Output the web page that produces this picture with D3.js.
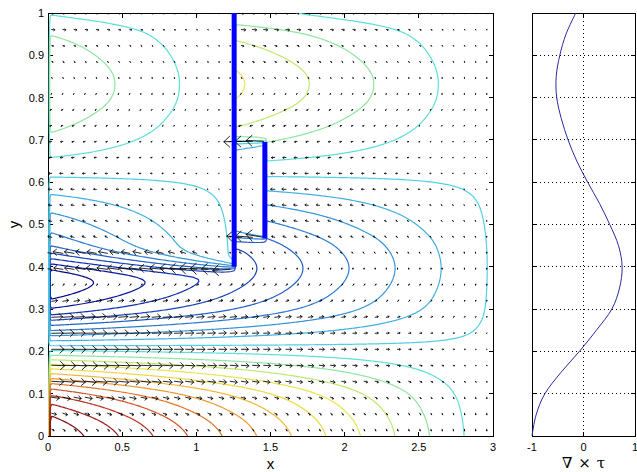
<!DOCTYPE html>
<html>
<head>
<meta charset="utf-8">
<title>Wind-driven circulation with barriers</title>
<script src="https://cdn.jsdelivr.net/npm/d3@7"></script>
<style>
  html, body { margin: 0; padding: 0; background: #fff; }
  svg { display: block; }
  .tick-label { font-family: "Liberation Sans", Arial, Helvetica, sans-serif; font-size: 11px; fill: #000; }
  .axis-title { font-family: "Liberation Sans", Arial, Helvetica, sans-serif; font-size: 15px; fill: #000; }
  .curl-title { font-family: "DejaVu Serif", "Liberation Serif", serif; font-size: 15px; fill: #000; word-spacing: 1px; }
</style>
</head>
<body>
<svg id="chart" width="637" height="472"></svg>
<script>
// Wind-stress curl profile, sampled every 0.05 in y
const curlY = [0, 0.05, 0.10, 0.15, 0.20, 0.25, 0.30, 0.35, 0.40, 0.45, 0.50,
               0.55, 0.60, 0.65, 0.70, 0.75, 0.80, 0.85, 0.90, 0.95, 1.00];
const curlValues = [-1.00, -0.92, -0.75, -0.44, -0.08, 0.25, 0.55, 0.70, 0.75, 0.68, 0.51,
                    0.31, 0.08, -0.13, -0.30, -0.43, -0.52, -0.53, -0.46, -0.34, -0.15];

// Thin barriers: x position, lower end, upper end, streamfunction value on the barrier
const barrierX = [1.255, 1.462];
const barrierBottom = [0.40, 0.467];
const barrierTop = [1.00, 0.695];
const barrierPsi = [0, -0.35];

// Streamfunction contour levels
const levels = [-2.13, -1.897, -1.664, -1.431, -1.198, -0.965, -0.732, -0.499, -0.266, -0.033,
                0.2, 0.433, 0.666, 0.899, 1.132, 1.365, 1.598, 1.831, 2.064, 2.297, 2.53, 2.763];

// Axis ticks
const xTicks = [0, 0.5, 1, 1.5, 2, 2.5, 3];
const yTicks = [0, 0.1, 0.2, 0.3, 0.4, 0.5, 0.6, 0.7, 0.8, 0.9, 1];
const curlTicks = [-1, 0, 1];

// Quiver sample lattice
const quiverX = d3.range(40).map(k => 0.025 + 0.0752 * k);
const quiverY = d3.range(27).map(j => 0.016 + 0.0378 * j);

// ---- styles ----
const levelColors = ["#000070", "#00088a", "#0a1aa0", "#1030b0", "#1a46bc", "#2260c6", "#2a7ad0",
  "#3494d8", "#40b0e0", "#50d0e6", "#5edfd8", "#8fe6a0", "#bfe870", "#e6e650", "#f0d840",
  "#f0b838", "#ec9a30", "#e07828", "#d05424", "#bb3420", "#a01c1c", "#801010"];
const color = d3.scaleOrdinal(levels, levelColors);

const svg = d3.select("#chart");
const plot = { left: 48, right: 493, top: 13, bottom: 436 };
const side = { left: 532, right: 635 };

const x = d3.scaleLinear().domain([0, 3]).range([plot.left, plot.right]);
const y = d3.scaleLinear().domain([0, 1]).range([plot.bottom, plot.top]);
const xc = d3.scaleLinear().domain([-1, 1]).range([side.left, side.right]);

// ---- field ----
function curlAt(v) {
  const n = curlY.length;
  let i = d3.bisectRight(curlY, v) - 1;
  i = Math.max(0, Math.min(n - 2, i));
  const t = (v - curlY[i]) / (curlY[i + 1] - curlY[i]);
  const p0 = curlValues[Math.max(0, i - 1)], p1 = curlValues[i],
        p2 = curlValues[i + 1], p3 = curlValues[Math.min(n - 1, i + 2)];
  const m1 = (p2 - p0) / 2, m2 = (p3 - p1) / 2;
  const t2 = t * t, t3 = t2 * t;
  return (2 * t3 - 3 * t2 + 1) * p1 + (t3 - 2 * t2 + t) * m1 + (-2 * t3 + 3 * t2) * p2 + (t3 - t2) * m2;
}

function erf(z) {
  const s = Math.sign(z); z = Math.abs(z);
  const t = 1 / (1 + 0.3275911 * z);
  const r = 1 - (((((1.061405429 * t - 1.453152027) * t) + 1.421413741) * t - 0.284496736) * t + 0.254829592) * t * Math.exp(-z * z);
  return s * r;
}
const phi = z => 0.5 * (1 + erf(z / Math.SQRT2));

// Sverdrup streamfunction integrated westward from the nearest wall to the east,
// with thin shear layers leaving the barrier ends and a western boundary layer at x = 0.
function psiAt(px, py) {
  const c = curlAt(py);
  const open = (px - 3) * c;
  let p = open;
  if (px < barrierX[0]) {
    const inner = (px - barrierX[0]) * c + barrierPsi[0];
    const d = (barrierX[0] - px) / barrierX[0];
    const sig = 0.005 + 0.025 * Math.sqrt(d);
    const yc = barrierBottom[0] + 0.012 * d;
    const s = phi((py - yc) / sig);
    p = open * (1 - s) + inner * s;
  } else if (px < barrierX[1]) {
    const inner = (px - barrierX[1]) * c + barrierPsi[1];
    const d = (barrierX[1] - px) / (barrierX[1] - barrierX[0]);
    const sig = 0.004 + 0.008 * Math.sqrt(d);
    const s = phi((py - barrierBottom[1]) / sig) * phi((barrierTop[1] - py) / sig);
    p = open * (1 - s) + inner * s;
  }
  return p * (1 - Math.exp(-px / 0.003));
}

// ---- clip ----
const defs = svg.append("defs");
defs.append("clipPath").attr("id", "plot-clip").append("rect")
  .attr("x", plot.left - 0.5).attr("y", plot.top - 0.5)
  .attr("width", plot.right - plot.left + 1).attr("height", plot.bottom - plot.top + 1);

// ---- main axes (drawn beneath data) ----
const axes = svg.append("g").attr("shape-rendering", "crispEdges");
axes.append("rect")
  .attr("x", plot.left).attr("y", plot.top)
  .attr("width", plot.right - plot.left).attr("height", plot.bottom - plot.top)
  .attr("fill", "none").attr("stroke", "#000").attr("stroke-width", 1);
const tl = 4.5;
xTicks.forEach(t => {
  axes.append("line").attr("x1", x(t)).attr("x2", x(t)).attr("y1", plot.bottom).attr("y2", plot.bottom - tl).attr("stroke", "#000");
  axes.append("line").attr("x1", x(t)).attr("x2", x(t)).attr("y1", plot.top).attr("y2", plot.top + tl).attr("stroke", "#000");
});
yTicks.forEach(t => {
  axes.append("line").attr("x1", plot.left).attr("x2", plot.left + tl).attr("y1", y(t)).attr("y2", y(t)).attr("stroke", "#000");
  axes.append("line").attr("x1", plot.right).attr("x2", plot.right - tl).attr("y1", y(t)).attr("y2", y(t)).attr("stroke", "#000");
});
svg.append("g").selectAll("text").data(xTicks).join("text")
  .attr("class", "tick-label").attr("x", d => x(d)).attr("y", 450.5)
  .attr("text-anchor", "middle").text(d => String(d));
svg.append("g").selectAll("text").data(yTicks).join("text")
  .attr("class", "tick-label").attr("x", plot.left - 4).attr("y", d => y(d)).attr("dy", "0.36em")
  .attr("text-anchor", "end").text(d => String(d));
svg.append("text").attr("class", "axis-title").attr("x", x(1.5)).attr("y", 468.5)
  .attr("text-anchor", "middle").text("x");
svg.append("text").attr("class", "axis-title")
  .attr("transform", `translate(19,${y(0.5)}) rotate(-90)`)
  .attr("text-anchor", "middle").text("y");

// ---- contours ----
const nx = 301, ny = 201;
const gx = 3 / (nx - 1), gy = 1 / (ny - 1);
const grid = new Float64Array(nx * ny);
for (let j = 0; j < ny; j++) {
  for (let i = 0; i < nx; i++) grid[j * nx + i] = psiAt(i * gx, j * gy);
}
const contours = d3.contours().size([nx, ny]).thresholds(levels)(grid);

// Break each ring into open isolines, dropping the pieces that run along the grid border.
const onBorder = p => p[0] <= 0 || p[0] >= nx || p[1] <= 0 || p[1] >= ny;
function isolines(geom) {
  const lines = [];
  geom.coordinates.forEach(poly => poly.forEach(ring => {
    let cur = [];
    for (let k = 0; k < ring.length - 1; k++) {
      const a = ring[k], b = ring[k + 1];
      if (onBorder(a) || onBorder(b)) {
        if (cur.length > 1) lines.push(cur);
        cur = [];
        continue;
      }
      if (!cur.length) cur.push(a);
      cur.push(b);
    }
    if (cur.length > 1) lines.push(cur);
  }));
  return lines;
}
// grid index i sits at contour coordinate i + 0.5; a small eastward nudge keeps
// the boundary-layer lines on the western wall visible above the frame
const isoLine = d3.line()
  .x(p => x((p[0] - 0.5) * gx + 0.005))
  .y(p => y((p[1] - 0.5) * gy));
svg.append("g").attr("clip-path", "url(#plot-clip)")
  .selectAll("path").data(contours).join("path")
  .attr("d", d => isolines(d).map(l => isoLine(l)).join(""))
  .attr("fill", "none")
  .attr("stroke", d => color(d.value))
  .attr("stroke-width", 1.2)
  .attr("stroke-linejoin", "round");

// ---- quiver ----
const h = 1e-4;
const vecs = [];
quiverY.forEach(qy => quiverX.forEach(qx => {
  const u = -(psiAt(qx, qy + h) - psiAt(qx, qy - h)) / (2 * h);
  const v = (psiAt(qx + h, qy) - psiAt(qx - h, qy)) / (2 * h);
  vecs.push({ x: qx, y: qy, u, v });
}));
const delx = (d3.max(quiverX) - d3.min(quiverX)) / quiverX.length;
const dely = (d3.max(quiverY) - d3.min(quiverY)) / quiverY.length;
const sdel = Math.sqrt(delx * delx + dely * dely);
const refLen = d3.max(vecs.filter(d => d.y < 0.35), d => Math.hypot(d.u, d.v) / sdel);
const autoscale = 1.2 * 0.9 / refLen;
vecs.forEach(d => {
  let us = d.u * autoscale, vs = d.v * autoscale;
  const len = Math.hypot(us, vs) / sdel;
  const cap = 1.6 * 0.9;
  if (len > cap) { us *= cap / len; vs *= cap / len; }
  d.us = us; d.vs = vs;
});
const alpha = 0.33, beta = 0.33;
function arrowPath(d) {
  const x1 = d.x + d.us, y1 = d.y + d.vs;
  const ax = x1 - alpha * (d.us + beta * d.vs), ay = y1 - alpha * (d.vs - beta * d.us);
  const bx = x1 - alpha * (d.us - beta * d.vs), by = y1 - alpha * (d.vs + beta * d.us);
  return `M${x(d.x)},${y(d.y)}L${x(x1)},${y(y1)}M${x(ax)},${y(ay)}L${x(x1)},${y(y1)}L${x(bx)},${y(by)}`;
}
svg.append("g").attr("clip-path", "url(#plot-clip)")
  .selectAll("path").data(vecs).join("path")
  .attr("d", arrowPath)
  .attr("fill", "none").attr("stroke", "#000").attr("stroke-width", 0.85)
  .attr("stroke-linecap", "round").attr("stroke-linejoin", "miter");

// ---- barriers ----
svg.append("g").selectAll("line").data(barrierX).join("line")
  .attr("x1", d => x(d)).attr("x2", d => x(d))
  .attr("y1", (d, i) => y(barrierBottom[i])).attr("y2", (d, i) => y(barrierTop[i]))
  .attr("stroke", "#0000ff").attr("stroke-width", 5);

// ---- side panel: wind-stress curl ----
const sideAxes = svg.append("g").attr("shape-rendering", "crispEdges");
sideAxes.append("rect")
  .attr("x", side.left).attr("y", plot.top)
  .attr("width", side.right - side.left).attr("height", plot.bottom - plot.top)
  .attr("fill", "none").attr("stroke", "#000");
yTicks.filter(t => t > 0 && t < 1).forEach(t => {
  sideAxes.append("line").attr("x1", side.left).attr("x2", side.right).attr("y1", y(t)).attr("y2", y(t))
    .attr("stroke", "#000").attr("stroke-dasharray", "1,3");
});
sideAxes.append("line").attr("x1", xc(0)).attr("x2", xc(0)).attr("y1", plot.top).attr("y2", plot.bottom)
  .attr("stroke", "#000").attr("stroke-dasharray", "1,3");
yTicks.forEach(t => {
  sideAxes.append("line").attr("x1", side.left).attr("x2", side.left + 4).attr("y1", y(t)).attr("y2", y(t)).attr("stroke", "#000");
  sideAxes.append("line").attr("x1", side.right).attr("x2", side.right - 4).attr("y1", y(t)).attr("y2", y(t)).attr("stroke", "#000");
});
curlTicks.forEach(t => {
  sideAxes.append("line").attr("x1", xc(t)).attr("x2", xc(t)).attr("y1", plot.bottom).attr("y2", plot.bottom - 4).attr("stroke", "#000");
  sideAxes.append("line").attr("x1", xc(t)).attr("x2", xc(t)).attr("y1", plot.top).attr("y2", plot.top + 4).attr("stroke", "#000");
});
svg.append("g").selectAll("text").data(curlTicks).join("text")
  .attr("class", "tick-label").attr("x", d => xc(d)).attr("y", 450.5)
  .attr("text-anchor", "middle").text(d => String(d));
svg.append("text").attr("class", "curl-title").attr("x", xc(0)).attr("y", 468)
  .attr("text-anchor", "middle").text("\u2207 \u00d7 \u03c4");

const curlLine = d3.line()
  .x((d, i) => xc(curlValues[i]))
  .y(d => y(d))
  .curve(d3.curveCatmullRom.alpha(0));
svg.append("path").datum(curlY)
  .attr("d", curlLine)
  .attr("fill", "none").attr("stroke", "#2a2aa0").attr("stroke-width", 1);
</script>
</body>
</html>
